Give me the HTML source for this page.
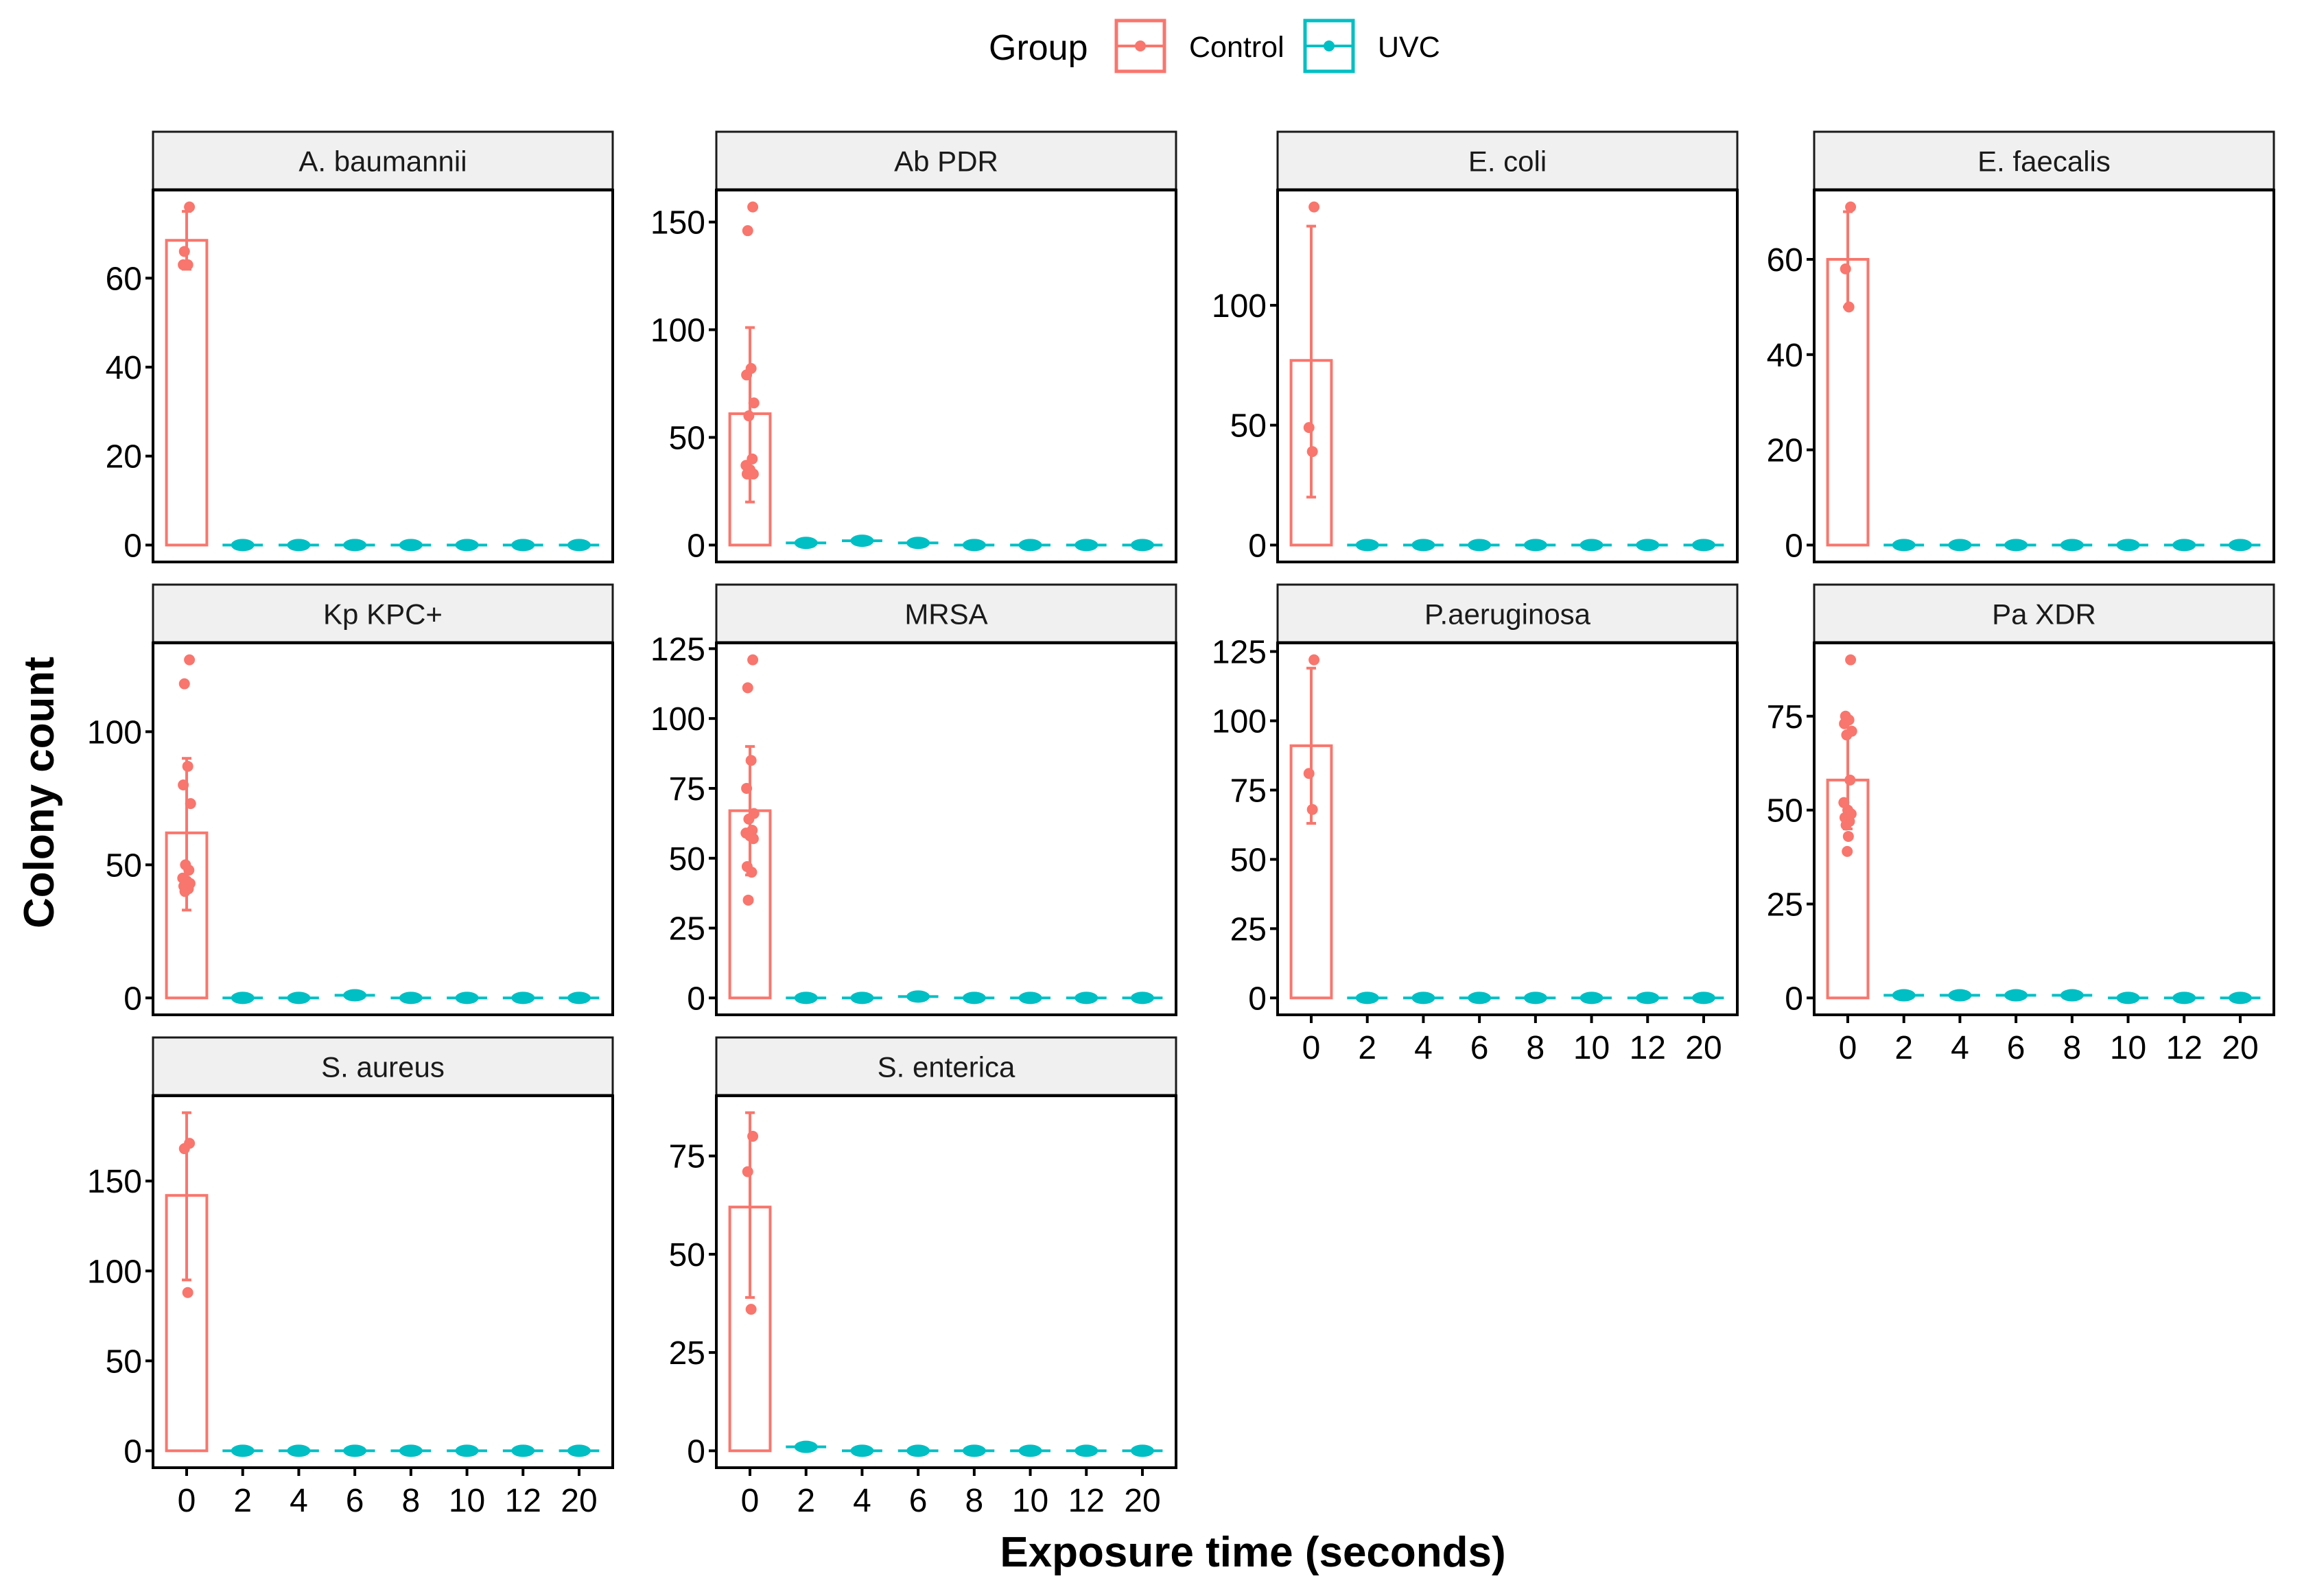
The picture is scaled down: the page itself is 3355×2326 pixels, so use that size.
<!DOCTYPE html>
<html><head><meta charset="utf-8">
<style>
html,body{margin:0;padding:0;background:#fff;}
svg{display:block;font-family:"Liberation Sans",Arial,sans-serif;}
</style></head>
<body>
<svg id="chart" width="3355" height="2326" viewBox="0 0 3355 2326">
  <rect x="0" y="0" width="3355" height="2326" fill="#fff"/>
  <g>
    <text x="1441" y="87" font-size="52" fill="#000">Group</text>
    <g>
      <rect x="1627" y="30" width="70" height="74" fill="#fff" stroke="#F8766D" stroke-width="5"/>
      <line x1="1629" y1="67" x2="1695" y2="67" stroke="#F8766D" stroke-width="4"/>
      <circle cx="1662" cy="67" r="8" fill="#F8766D"/>
      <text x="1733" y="83" font-size="43" fill="#000">Control</text>
    </g>
    <g>
      <rect x="1902" y="30" width="70" height="74" fill="#fff" stroke="#00BFC4" stroke-width="5"/>
      <line x1="1904" y1="67" x2="1970" y2="67" stroke="#00BFC4" stroke-width="4"/>
      <circle cx="1937" cy="67" r="8" fill="#00BFC4"/>
      <text x="2008" y="83" font-size="43" fill="#000">UVC</text>
    </g>
  </g>
  <text x="0" y="0" transform="translate(78,1155) rotate(-90)" text-anchor="middle" font-size="62" font-weight="bold" fill="#000">Colony count</text>
  <text x="1826" y="2283" text-anchor="middle" font-size="62" font-weight="bold" fill="#000">Exposure time (seconds)</text>
  <g id="panels"></g>
</svg>
<script>
// ---- data ----
const categories = ["0","2","4","6","8","10","12","20"];
const panelNames = ["A. baumannii","Ab PDR","E. coli","E. faecalis","Kp KPC+","MRSA","P.aeruginosa","Pa XDR","S. aureus","S. enterica"];
const controlMeans = [68.5, 61, 77, 60, 62, 67, 91, 58, 142, 62];
const controlErrLow = [62, 20, 20, 50, 33, 44, 63, 45, 95, 39];
const controlErrHigh = [75, 101, 133, 70, 90, 90, 119, 70, 188, 86];
const controlPoints = [
  [76, 66, 63, 63],
  [157, 146, 82, 79, 66, 60, 40, 37, 35, 33, 33],
  [141, 49, 39],
  [71, 58, 50],
  [127, 118, 87, 80, 73, 50, 48, 45, 44, 43, 42, 41, 40],
  [121, 111, 85, 75, 66, 64, 60, 59, 58, 57, 47, 45, 35],
  [122, 81, 68],
  [90, 75, 74, 73, 71, 70, 58, 52, 50, 49, 48, 47, 46, 43, 39],
  [171, 168, 88],
  [80, 71, 36]
];
// UVC values at 2,4,6,8,10,12,20 s
const uvcValues = [
  [0,0,0,0,0,0,0],
  [1,2,1,0,0,0,0],
  [0,0,0,0,0,0,0],
  [0,0,0,0,0,0,0],
  [0,0,1,0,0,0,0],
  [0,0,0.5,0,0,0,0],
  [0,0,0,0,0,0,0],
  [0.7,0.7,0.7,0.7,0,0,0],
  [0,0,0,0,0,0,0],
  [1,0,0,0,0,0,0]
];
const yTicks = [
  [0,20,40,60],
  [0,50,100,150],
  [0,50,100],
  [0,20,40,60],
  [0,50,100],
  [0,25,50,75,100,125],
  [0,25,50,75,100,125],
  [0,25,50,75],
  [0,50,100,150],
  [0,25,50,75]
];
const jitter = [0.05,-0.04,0.02,-0.06,0.07,-0.02,0.04,-0.07,0.0,0.06,-0.05,0.03,-0.03,0.01,-0.01];

// ---- layout ----
const NS = "http://www.w3.org/2000/svg";
const colX = [223, 1044, 1862, 2644];
const rowY = [192, 852, 1512];
const PW = 670, SH = 85, PH = 542;
const CTRL = "#F8766D", UVC = "#00BFC4";
const showXAxis = [false,false,false,false,false,false,true,true,true,true];

function mk(tag, attrs, parent){
  const e = document.createElementNS(NS, tag);
  for (const k in attrs) e.setAttribute(k, attrs[k]);
  parent.appendChild(e);
  return e;
}
const root = document.getElementById("panels");

panelNames.forEach((name, i) => {
  const col = i % 4, row = Math.floor(i / 4);
  const x0 = colX[col], sy = rowY[row], py = sy + SH;
  const g = mk("g", {}, root);
  
  

  let vmax = Math.max(controlErrHigh[i], ...controlPoints[i], ...uvcValues[i]);
  const vmin = 0;
  const span = vmax - vmin;
  const dLo = vmin - 0.05*span, dHi = vmax + 0.05*span;
  const yS = v => py + PH - (v - dLo) / (dHi - dLo) * PH;
  const bw = PW / (categories.length + 0.2);
  const xS = k => x0 + (k + 0.6) * bw;

  const strip = mk("rect", {x:x0, y:sy, width:PW, height:SH, fill:"#f0f0f0", stroke:"#1a1a1a", "stroke-width":3}, g);
  
  
  mk("line", {x1:x0, y1:py, x2:x0+PW, y2:py, stroke:"#000", "stroke-width":5}, g);
  const st = mk("text", {x:x0+PW/2, y:sy+SH/2+15, "text-anchor":"middle", "font-size":42, fill:"#1a1a1a"}, g);
  st.textContent = name;
  
  

  const pr = mk("rect", {x:x0, y:py, width:PW, height:PH, fill:"#fff", stroke:"#000", "stroke-width":4}, g);
  
  

  yTicks[i].forEach(t => {
    const y = yS(t);
    mk("line", {x1:x0-11, y1:y, x2:x0, y2:y, stroke:"#000", "stroke-width":4}, g);
    const tl = mk("text", {x:x0-16, y:y+17, "text-anchor":"end", "font-size":48, fill:"#000"}, g);
    tl.textContent = t;
    
    
  });

  if (showXAxis[i]) {
    categories.forEach((c, k) => {
      const x = xS(k);
      mk("line", {x1:x, y1:py+PH, x2:x, y2:py+PH+12, stroke:"#000", "stroke-width":4}, g);
      const xl = mk("text", {x:x, y:py+PH+64, "text-anchor":"middle", "font-size":48, fill:"#000"}, g);
      xl.textContent = c;
      
      
    });
  }

  const hw = bw * 0.36;
  const cb = mk("rect", {x:xS(0)-hw, y:yS(controlMeans[i]), width:2*hw, height:yS(0)-yS(controlMeans[i]), fill:"none", stroke:CTRL, "stroke-width":4}, g);
  
  
  const eg = mk("g", {stroke:CTRL, "stroke-width":4}, g);
  
  
  const cx = xS(0);
  mk("line", {x1:cx, y1:yS(controlErrLow[i]), x2:cx, y2:yS(controlErrHigh[i])}, eg);
  mk("line", {x1:cx-7, y1:yS(controlErrLow[i]), x2:cx+7, y2:yS(controlErrLow[i])}, eg);
  mk("line", {x1:cx-7, y1:yS(controlErrHigh[i]), x2:cx+7, y2:yS(controlErrHigh[i])}, eg);
  controlPoints[i].forEach((v, j) => {
    const p = mk("circle", {cx:cx + jitter[j % jitter.length]*bw, cy:yS(v), r:8, fill:CTRL}, g);
    
    
  });
  uvcValues[i].forEach((v, k) => {
    const x = xS(k+1);
    const l = mk("line", {x1:x-hw, y1:yS(v), x2:x+hw, y2:yS(v), stroke:UVC, "stroke-width":4}, g);
    
    
    const p = mk("ellipse", {cx:x, cy:yS(v), rx:17, ry:9, fill:UVC}, g);
    
    
  });
});
</script>
</body></html>
